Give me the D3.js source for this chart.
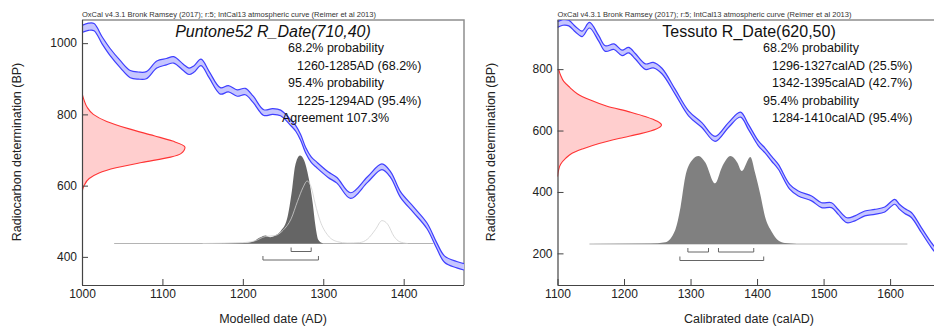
<!DOCTYPE html>
<html><head><meta charset="utf-8">
<script src="https://cdn.jsdelivr.net/npm/d3@7/dist/d3.min.js"></script>
<style>
body{margin:0;background:#fff;}
svg{display:block;font-family:"Liberation Sans",Arial,Helvetica,sans-serif;}
</style>
</head><body>
<svg id="chart" width="934" height="327"></svg>
<script>
// ---------------- DATA ----------------
const headerText = "OxCal v4.3.1 Bronk Ramsey (2017); r:5; IntCal13 atmospheric curve (Reimer et al 2013)";

// Left panel: Puntone52
const leftTitle = "Puntone52 R_Date(710,40)";
const leftLines = [
  {t:"68.2% probability", indent:0},
  {t:"1260-1285AD (68.2%)", indent:1},
  {t:"95.4% probability", indent:0},
  {t:"1225-1294AD (95.4%)", indent:1},
  {t:"Agreement 107.3%", indent:-1}
];
const leftXTicks = [1000, 1100, 1200, 1300, 1400];
const leftYTicks = [400, 600, 800, 1000];
const leftXLabel = "Modelled date (AD)";
// calibration curve: [calendar year AD, radiocarbon BP, 1-sigma]
const leftCurve = [
  [1000,1040,10],[1008,1046,10],[1015,1045,10],[1025,1008,10],[1035,975,10],[1048,940,10],
  [1060,913,10],[1070,909,10],[1080,910,10],[1093,940,10],[1105,948,9],[1114,953,9],
  [1126,932,9],[1133,921,9],[1139,927,9],[1148,946,9],[1158,912,9],[1172,866,9],
  [1182,872,9],[1193,860,9],[1203,864,9],[1213,842,9],[1226,805,8],[1237,808,8],
  [1247,804,8],[1259,778,8],[1266,760,8],[1272,735,8],[1278,700,8],[1285,673,8],
  [1292,658,8],[1306,631,8],[1317,615,8],[1334,572,8],[1355,617,8],[1373,653,8],
  [1384,630,8],[1396,575,8],[1412,533,8],[1429,487,8],[1441,432,8],[1451,393,9],
  [1466,378,9],[1475,372,9]
];
// radiocarbon measurement distribution: [BP, relative probability]
const leftMeasure = [
  [860,0],[840,0.02],[820,0.05],[800,0.11],[780,0.24],[760,0.45],[740,0.70],[725,0.88],
  [708,1.0],[690,0.96],[680,0.86],[665,0.58],[650,0.33],[635,0.16],[620,0.07],[600,0.02],[580,0]
];
// modelled (posterior) distribution: [year, relative probability]
const leftPosterior = [
  [1150,0],[1200,0.005],[1212,0.02],[1222,0.07],[1228,0.09],[1234,0.07],[1240,0.09],
  [1247,0.14],[1255,0.28],[1261,0.60],[1265,0.88],[1271,1.0],[1276,0.95],[1282,0.74],
  [1287,0.45],[1290,0.22],[1294,0.04],[1300,0]
];
// unmodelled (likelihood) distribution: [year, relative probability]
const leftLikelihood = [
  [1150,0],[1200,0.01],[1215,0.03],[1228,0.08],[1240,0.09],[1250,0.15],[1260,0.28],
  [1268,0.48],[1275,0.64],[1280,0.71],[1285,0.64],[1290,0.45],[1296,0.26],[1306,0.09],
  [1318,0.02],[1330,0.005],[1345,0.01],[1355,0.05],[1365,0.16],[1373,0.26],[1380,0.22],
  [1388,0.08],[1395,0.02],[1405,0]
];
const leftRange = [1040, 1437];
const left68 = [[1260,1285]];
const left95 = [[1225,1294]];

// Right panel: Tessuto
const rightTitle = "Tessuto R_Date(620,50)";
const rightLines = [
  {t:"68.2% probability", indent:0},
  {t:"1296-1327calAD (25.5%)", indent:1},
  {t:"1342-1395calAD (42.7%)", indent:1},
  {t:"95.4% probability", indent:0},
  {t:"1284-1410calAD (95.4%)", indent:1}
];
const rightXTicks = [1100, 1200, 1300, 1400, 1500, 1600];
const rightYTicks = [200, 400, 600, 800];
const rightXLabel = "Calibrated date (calAD)";
const rightCurve = [
  [1100,945,9],[1108,952,9],[1117,950,9],[1127,930,9],[1137,915,9],[1148,943,9],
  [1162,900,9],[1172,867,9],[1185,873,9],[1197,853,9],[1207,862,9],[1217,842,9],
  [1232,808,9],[1244,813,9],[1257,794,9],[1277,726,8],[1297,656,8],[1317,618,8],
  [1337,573,8],[1357,618,8],[1375,652,8],[1387,612,8],[1402,558,8],[1412,535,8],
  [1422,508,8],[1432,482,8],[1449,417,8],[1462,395,8],[1482,379,8],[1497,357,8],
  [1512,357,8],[1522,335,8],[1535,308,8],[1547,314,8],[1562,330,8],[1577,335,8],
  [1592,343,8],[1607,368,8],[1614,352,8],[1622,338,8],[1632,325,8],[1647,276,8],
  [1662,227,8],[1670,205,8]
];
const rightMeasure = [
  [800,0.01],[780,0.03],[760,0.06],[740,0.12],[720,0.19],[700,0.31],[680,0.47],
  [660,0.70],[645,0.85],[630,0.96],[618,1.0],[605,0.95],[590,0.80],[575,0.60],
  [558,0.40],[540,0.24],[526,0.14],[510,0.08],[490,0.03],[470,0.01],[450,0]
];
const rightPosterior = [
  [1150,0],[1240,0.005],[1262,0.02],[1277,0.16],[1285,0.42],[1292,0.76],[1302,0.95],
  [1312,1.0],[1322,0.93],[1337,0.69],[1347,0.87],[1360,1.0],[1370,0.93],[1377,0.83],
  [1390,0.99],[1397,0.81],[1405,0.56],[1412,0.31],[1422,0.14],[1432,0.04],[1442,0.01],[1460,0]
];
const rightRange = [1148, 1626];
const right68 = [[1296,1327],[1342,1395]];
const right95 = [[1284,1410]];

// ---------------- DRAWING ----------------
const svg = d3.select("#chart");

function drawPanel(cfg) {
  const x = d3.scaleLinear().domain(cfg.xDomain).range([cfg.left, cfg.right]);
  const y = d3.scaleLinear().domain(cfg.yDomain).range([cfg.bottom, cfg.top]);
  const g = svg.append("g");

  const clipId = "clip-" + cfg.id;
  svg.append("clipPath").attr("id", clipId).append("rect")
    .attr("x", cfg.left).attr("y", cfg.top)
    .attr("width", cfg.right - cfg.left).attr("height", cfg.bottom - cfg.top);

  // frame (top & right)
  g.append("path")
    .attr("d", `M${cfg.left},${cfg.top}H${cfg.right}V${cfg.bottom}`)
    .attr("fill", "none").attr("stroke", "#8f8f8f").attr("stroke-width", 1.5);

  // header
  g.append("text").attr("x", cfg.left).attr("y", cfg.top - 3)
    .attr("font-size", 7).attr("fill", "#333")
    .attr("textLength", 294).attr("lengthAdjust", "spacingAndGlyphs")
    .text(headerText);

  const plot = g.append("g").attr("clip-path", `url(#${clipId})`);

  // calibration curve band
  const band = d3.area()
    .x(d => x(d[0])).y0(d => y(d[1] - d[2])).y1(d => y(d[1] + d[2]))
    .curve(d3.curveCatmullRom);
  plot.append("path").datum(cfg.curve).attr("d", band)
    .attr("fill", "#c6c6ff").attr("stroke", "none");
  const upper = d3.line().x(d => x(d[0])).y(d => y(d[1] + d[2])).curve(d3.curveCatmullRom);
  const lower = d3.line().x(d => x(d[0])).y(d => y(d[1] - d[2])).curve(d3.curveCatmullRom);
  [upper, lower].forEach(l => plot.append("path").datum(cfg.curve).attr("d", l)
    .attr("fill", "none").attr("stroke", "#3f3fff").attr("stroke-width", 1.2));

  // measurement distribution on the y axis
  const mScale = d3.scaleLinear().domain([0, 1]).range([cfg.left, cfg.left + cfg.measureWidth]);
  const mArea = d3.area().y(d => y(d[0])).x0(cfg.left).x1(d => mScale(d[1])).curve(d3.curveMonotoneY);
  const mLine = d3.line().y(d => y(d[0])).x(d => mScale(d[1])).curve(d3.curveMonotoneY);
  const mData = cfg.measure.slice().sort((a, b) => a[0] - b[0]);
  plot.append("path").datum(mData).attr("d", mArea).attr("fill", "#ffcece");
  plot.append("path").datum(mData).attr("d", mLine)
    .attr("fill", "none").attr("stroke", "#ff3434").attr("stroke-width", 1.1);

  // baseline of calendar distribution
  g.append("line")
    .attr("x1", x(cfg.range[0])).attr("x2", x(cfg.range[1]))
    .attr("y1", cfg.base).attr("y2", cfg.base)
    .attr("stroke", "#b4b4b4").attr("stroke-width", 1);

  const h = d3.scaleLinear().domain([0, 1]).range([cfg.base, cfg.base - cfg.distHeight]);
  const dArea = d3.area().x(d => x(d[0])).y0(cfg.base).y1(d => h(d[1])).curve(d3.curveMonotoneX);
  const dLine = d3.line().x(d => x(d[0])).y(d => h(d[1])).curve(d3.curveMonotoneX);

  g.append("path").datum(cfg.posterior).attr("d", dArea)
    .attr("fill", cfg.postColor).attr("fill-opacity", cfg.postOpacity);
  if (cfg.likelihood) {
    g.append("path").datum(cfg.likelihood).attr("d", dLine)
      .attr("fill", "none").attr("stroke", "#cfcfcf").attr("stroke-opacity", 0.8)
      .attr("stroke-width", 1);
  }

  // range brackets
  const brk = (ranges, yy) => ranges.forEach(r => {
    g.append("path")
      .attr("d", `M${x(r[0])},${yy - 4}V${yy}H${x(r[1])}V${yy - 4}`)
      .attr("fill", "none").attr("stroke", "#666").attr("stroke-width", 1);
  });
  brk(cfg.r68, cfg.base + 8);
  brk(cfg.r95, cfg.base + 16.5);

  // axes
  const axisColor = "#444";
  const xMinor = d3.range(cfg.xDomain[0], cfg.xDomain[1] + 0.01, 10);
  const yMinor = d3.range(Math.ceil(cfg.yDomain[0] / 20) * 20, cfg.yDomain[1], 20);
  const xa = g.append("g").attr("transform", `translate(0,${cfg.bottom})`);
  xa.call(d3.axisBottom(x).tickValues(xMinor).tickSize(-3).tickFormat(""));
  xa.call(d3.axisBottom(x).tickValues(cfg.xTicks).tickSize(-6).tickPadding(4).tickFormat(d3.format("d")));
  const ya = g.append("g").attr("transform", `translate(${cfg.left},0)`);
  ya.call(d3.axisLeft(y).tickValues(yMinor).tickSize(-3).tickFormat(""));
  ya.call(d3.axisLeft(y).tickValues(cfg.yTicks).tickSize(-6).tickPadding(5).tickFormat(d3.format("d")));
  [xa, ya].forEach(a => {
    a.selectAll("path.domain").attr("stroke", axisColor).attr("stroke-width", 1.2);
    a.selectAll(".tick line").attr("stroke", axisColor);
    a.selectAll(".tick text").attr("fill", "#222").attr("font-size", 12)
      .attr("font-family", '"Liberation Sans",Arial,sans-serif');
  });
  xa.select("path.domain").attr("d", `M${cfg.left},0.5H${cfg.right}`);
  ya.select("path.domain").attr("d", `M0.5,${cfg.top}V${cfg.bottom}`);

  // axis titles
  g.append("text").attr("x", cfg.titleCenter)
    .attr("y", 323).attr("text-anchor", "middle").attr("font-size", 12.5).attr("fill", "#222")
    .text(cfg.xLabel);
  g.append("text")
    .attr("transform", `translate(${cfg.yLabelX},152) rotate(-90)`)
    .attr("text-anchor", "middle").attr("font-size", 12.5).attr("fill", "#222")
    .text("Radiocarbon determination (BP)");

  // title and statistics
  g.append("text").attr("x", cfg.titleCenter).attr("y", 37)
    .attr("text-anchor", "middle").attr("font-size", 16).attr("fill", "#111")
    .attr("font-style", cfg.italic ? "italic" : "normal")
    .text(cfg.title);
  cfg.lines.forEach((l, i) => {
    const xx = cfg.textX + (l.indent === 1 ? 9 : l.indent === -1 ? -6 : 0);
    g.append("text").attr("x", xx).attr("y", 52 + i * 17.5)
      .attr("font-size", 12.5).attr("fill", "#111").text(l.t);
  });
}

drawPanel({
  id: "left", left: 82, right: 464, top: 20, bottom: 285,
  xDomain: [1000, 1475], yDomain: [321, 1065],
  xTicks: leftXTicks, yTicks: leftYTicks, xLabel: leftXLabel,
  curve: leftCurve, measure: leftMeasure, measureWidth: 103,
  posterior: leftPosterior, likelihood: leftLikelihood,
  postColor: "#4a4a4a", postOpacity: 0.85,
  range: leftRange, base: 243.5, distHeight: 88,
  r68: left68, r95: left95,
  title: leftTitle, italic: true, titleCenter: 273, lines: leftLines, textX: 288,
  yLabelX: 20.5
});
drawPanel({
  id: "right", left: 557.5, right: 936, top: 20, bottom: 285,
  xDomain: [1100, 1669], yDomain: [97, 960],
  xTicks: rightXTicks, yTicks: rightYTicks, xLabel: rightXLabel,
  curve: rightCurve, measure: rightMeasure, measureWidth: 104,
  posterior: rightPosterior, likelihood: null,
  postColor: "#808080", postOpacity: 1,
  range: rightRange, base: 244, distHeight: 88,
  r68: right68, r95: right95,
  title: rightTitle, italic: false, titleCenter: 749, lines: rightLines, textX: 763,
  yLabelX: 495
});
</script>
</body></html>
